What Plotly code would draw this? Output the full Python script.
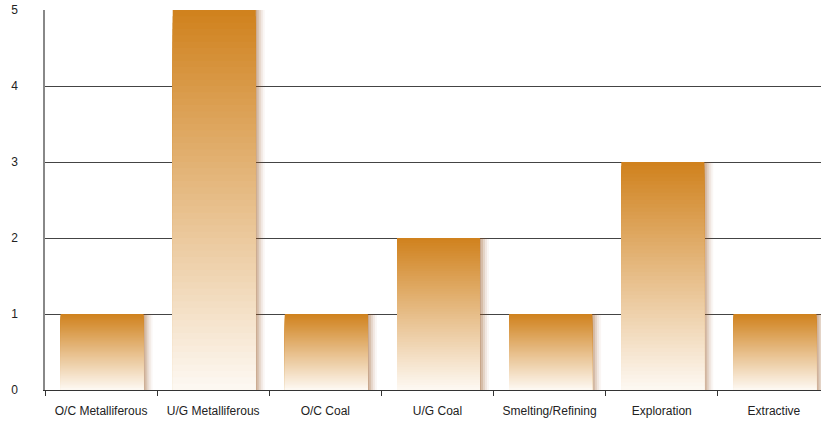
import plotly.graph_objects as go

categories = ["O/C Metalliferous", "U/G Metalliferous", "O/C Coal", "U/G Coal",
              "Smelting/Refining", "Exploration", "Extractive"]
values = [1, 5, 1, 2, 1, 3, 1]
y_ticks = [0, 1, 2, 3, 4, 5]

TOP = (208, 130, 30)
BOTTOM = (254, 250, 245)
N = 60
BAR_W = 0.74
PX = 1 / 112.0  # one pixel in category units

fig = go.Figure()

# soft shadow (offset to the right)
for dx, extra, a in [(8, 4, 0.05), (7, 2, 0.09), (6, 0, 0.13), (5, -2, 0.18), (4, -4, 0.22)]:
    fig.add_trace(go.Bar(
        x=categories, y=values,
        width=BAR_W + extra * PX,
        offset=-BAR_W / 2 + dx * PX - extra * PX / 2,
        marker=dict(color=f"rgba(150,85,30,{a})", line=dict(width=0)),
        hoverinfo="skip", showlegend=False))

# gradient: overlapping bars, tallest (darkest) first
for k in range(N):
    f = (N - k) / N
    c = tuple(round(BOTTOM[j] + (TOP[j] - BOTTOM[j]) * f) for j in range(3))
    fig.add_trace(go.Bar(
        x=categories, y=[v * f for v in values],
        width=BAR_W, offset=-BAR_W / 2 + 1 * PX,
        marker=dict(color=f"rgb{c}", line=dict(width=0)),
        hoverinfo="skip", showlegend=False))

fig.update_layout(
    width=821, height=425,
    barmode="overlay",
    margin=dict(l=45, r=0, t=10, b=35, autoexpand=False),
    plot_bgcolor="white", paper_bgcolor="white",
    font=dict(family="Liberation Sans, Arial, sans-serif", size=12, color="#222"),
    xaxis=dict(
        type="category", range=[-0.5, 6.42], automargin=False,
        showgrid=False, showline=True, linecolor="#333", linewidth=1,
        ticks="outside", tickson="boundaries", ticklen=5, tickcolor="#333",
        tickfont=dict(size=12), ticklabelstandoff=10, fixedrange=True),
    yaxis=dict(
        range=[0, 5], tickvals=y_ticks, ticktext=[str(t) for t in y_ticks],
        automargin=False,
        showgrid=True, gridcolor="#444", gridwidth=1,
        zeroline=True, zerolinecolor="#333", zerolinewidth=1,
        showline=True, linecolor="#888", linewidth=1.5,
        ticks="", ticklabelstandoff=23, tickfont=dict(size=12), fixedrange=True),
)

fig.write_html("out.html", config={"displayModeBar": False},
               post_script="document.body.style.margin='0';")
